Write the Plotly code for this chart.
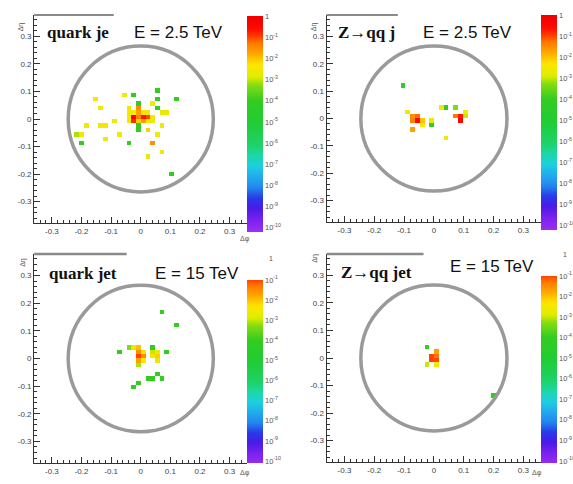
import numpy as np
import plotly.graph_objects as go

# ---------------- data (cell centres in dphi, deta and energy fraction) ----------------
QUARK25_PHI = [-0.052, -0.027, 0.062, 0.062, 0.123, -0.153, -0.137, -0.012, 0.040, 0.056,
               -0.008, -0.040, 0.072, 0.088, 0.076, -0.088, -0.136, -0.120, -0.184, -0.216,
               -0.200, -0.200, -0.120, -0.072, -0.040, -0.008, 0.024, 0.056, 0.040, 0.072,
               0.024, 0.104,
               -0.040, -0.024, -0.008, 0.008, 0.024,
               -0.040, -0.024, -0.008, 0.008, 0.024, 0.040,
               -0.040, -0.024, -0.008, 0.008, 0.024, 0.040, -0.008]
QUARK25_ETA = [0.087, 0.087, 0.100, 0.070, 0.069, 0.070, 0.040, 0.056, 0.056, 0.040,
               0.040, 0.040, 0.024, 0.024, -0.022, -0.006, -0.022, -0.022, -0.022, -0.052,
               -0.052, -0.084, -0.070, -0.052, -0.084, -0.040, -0.040, -0.052, -0.084, -0.115,
               -0.136, -0.200,
               0.024, 0.024, 0.024, 0.024, 0.024,
               0.008, 0.008, 0.008, 0.008, 0.008, 0.008,
               -0.008, -0.008, -0.008, -0.008, -0.008, -0.008, -0.024]
QUARK25_FRAC = [3e-3, 1e-4, 1e-4, 1e-4, 1e-4, 3e-3, 3e-3, 1e-4, 3e-3, 1e-4,
                3e-2, 3e-3, 2e-3, 2e-3, 3e-3, 3e-3, 3e-3, 3e-3, 3e-3, 8e-4,
                3e-3, 1e-4, 3e-3, 3e-3, 1e-4, 1e-4, 8e-3, 3e-3, 3e-2, 3e-3,
                2e-3, 1e-4,
                3e-3, 4e-3, 2e-2, 5e-3, 3e-3,
                5e-3, 5e-1, 4e-2, 2e-1, 1e-1, 3e-3,
                3e-3, 1.5e-1, 8e-3, 2e-2, 5e-3, 2e-3, 1e-4]

ZQQ25_PHI = [-0.104, -0.088, -0.072, -0.056, -0.056, -0.072, -0.040, -0.040, -0.072, -0.008,
             -0.008, 0.024, 0.040, 0.072, 0.072, 0.088, 0.088, 0.104, 0.104, 0.040]
ZQQ25_ETA = [0.120, 0.024, 0.008, 0.008, -0.008, -0.008, -0.008, -0.024, -0.040, -0.008,
             -0.024, 0.040, 0.040, 0.040, 0.008, 0.008, -0.008, 0.024, 0.008, -0.072]
ZQQ25_FRAC = [1e-4, 3e-3, 3e-2, 6e-2, 3e-1, 4e-2, 1e-2, 4e-3, 2e-2, 2e-3,
              1e-4, 3e-3, 1e-4, 5e-4, 5e-2, 2e-1, 4e-1, 3e-3, 1e-3, 3e-3]

QUARK15_PHI = [0.072, 0.120, -0.072, -0.040, -0.024, -0.008, 0.008, -0.008, -0.008, 0.008,
               -0.008, 0.008, -0.008, 0.040, 0.040, 0.056, 0.040, 0.056, 0.056, 0.088,
               0.056, 0.024, 0.040, 0.072, -0.008, -0.024]
QUARK15_ETA = [0.168, 0.120, 0.024, 0.040, 0.040, 0.040, 0.024, 0.024, 0.008, 0.008,
               -0.008, -0.008, -0.024, 0.040, 0.024, 0.024, 0.008, 0.008, -0.008, 0.024,
               -0.056, -0.072, -0.072, -0.078, -0.084, -0.104]
QUARK15_FRAC = [1e-4, 1e-4, 1e-4, 5e-4, 2e-3, 1e-2, 5e-3, 3e-2, 1e-1, 3e-2,
                2e-2, 4e-3, 8e-4, 1e-4, 1e-3, 2e-3, 3e-3, 8e-3, 2e-3, 1e-4,
                1e-4, 1e-4, 1e-4, 1e-4, 1e-4, 1e-4]

ZQQ15_PHI = [-0.024, 0.008, 0.008, -0.008, -0.008, 0.008, -0.024, 0.008, 0.200]
ZQQ15_ETA = [0.040, 0.024, 0.008, 0.008, -0.008, -0.008, -0.024, -0.024, -0.136]
ZQQ15_FRAC = [1e-4, 2e-2, 5e-2, 1e-1, 2e-1, 1.5e-1, 1e-3, 3e-3, 1e-4]

PANEL_LABELS = ["quark je", "Z\u2192qq j", "quark jet", "Z\u2192qq jet"]
ENERGY_LABELS = ["E = 2.5 TeV", "E = 2.5 TeV", "E = 15 TeV", "E = 15 TeV"]

AXIS_TICKS = [-0.3, -0.2, -0.1, 0.0, 0.1, 0.2, 0.3]
AXIS_TICK_LABELS = ["-0.3", "-0.2", "-0.1", "0", "0.1", "0.2", "0.3"]
CB_TICKS = [0, -1, -2, -3, -4, -5, -6, -7, -8, -9, -10]
CB_TICK_LABELS = ["1"] + ["10<sup>-%d</sup>" % k for k in range(1, 11)]

# ---------------- styling constants ----------------
W, H = 573, 484
EDGES = np.linspace(-0.4, 0.4, 51)
JET_R_PHI, JET_R_ETA = 0.245, 0.265
XR = [-0.36, 0.36]
YR = [-0.378, 0.378]

PAL_LOG = [-10.2, -9.6, -9.1, -8.6, -8.1, -7.6, -7.1, -6.6, -6.1, -5.0, -4.0, -3.25, -2.9,
           -2.3, -1.8, -1.3, -0.95, -0.6, 0.0]
PAL_COL = ["#9a30f0", "#7a22ee", "#4a1ae8", "#2a3ae8", "#2288ee", "#22aaee", "#1ecfe0",
           "#1cd8a8", "#1ed36a", "#22cc33", "#33cc22", "#88dd11", "#ddee00", "#ffe600",
           "#ffaa00", "#ff7a00", "#ff3c00", "#ff0a00", "#ee0000"]


def hex2rgb(h):
    h = h.lstrip("#")
    return [int(h[i:i + 2], 16) for i in (0, 2, 4)]


def colorscale(zmin, zmax, n=80):
    rgb = np.array([hex2rgb(c) for c in PAL_COL], dtype=float)
    out = []
    for i, v in enumerate(np.linspace(zmin, zmax, n)):
        r, g, b = (np.interp(v, PAL_LOG, rgb[:, k]) for k in range(3))
        out.append([i / (n - 1), "rgb(%d,%d,%d)" % (r, g, b)])
    return out


def histogram(phi, eta, frac):
    Hh, _, _ = np.histogram2d(phi, eta, bins=[EDGES, EDGES], weights=frac)
    Z = Hh.T
    z = [[(float(np.log10(v)) if v > 0 else None) for v in row] for row in Z]
    centres = list((EDGES[:-1] + EDGES[1:]) / 2)
    return centres, centres, z


panels = [
    (QUARK25_PHI, QUARK25_ETA, QUARK25_FRAC),
    (ZQQ25_PHI, ZQQ25_ETA, ZQQ25_FRAC),
    (QUARK15_PHI, QUARK15_ETA, QUARK15_FRAC),
    (ZQQ15_PHI, ZQQ15_ETA, ZQQ15_FRAC),
]

# pixel layout of each panel
PIX = [
    dict(l=34.5, r=250, t=15, b=223, cbt=16, cbb=232, zmin=-10.2, zmax=0.0, topline=115),
    dict(l=330, r=547, t=15, b=222, cbt=15, cbb=230, zmin=-10.2, zmax=0.0, topline=402),
    dict(l=34.5, r=250, t=254, b=463, cbt=280, cbb=463, zmin=-10.1, zmax=-1.0, topline=128),
    dict(l=330, r=547, t=254, b=462, cbt=276, cbb=463, zmin=-10.1, zmax=-1.0, topline=428),
]

fig = go.Figure()
shapes = []
annotations = []
label_pos = [(45, 33), (340, 33), (47, 273), (343, 272)]
energy_pos = [(133, 33), (425, 33), (155, 273), (453, 266)]
deta_pos = [(16, 20), (318, 20), (17, 262), (318, 258)]
dphi_pos = [(248, 239), None, (248, 479), (550, 479)]

for i, ((phi, eta, frac), p) in enumerate(zip(panels, PIX)):
    k = "" if i == 0 else str(i + 1)
    xs, ys, z = histogram(phi, eta, frac)
    fig.add_trace(go.Heatmap(
        x=xs, y=ys, z=z, xaxis="x" + k, yaxis="y" + k,
        zmin=p["zmin"], zmax=p["zmax"], colorscale=colorscale(p["zmin"], p["zmax"]),
        hoverinfo="skip",
        colorbar=dict(
            thickness=16, thicknessmode="pixels",
            len=p["cbb"] - p["cbt"], lenmode="pixels",
            x=p["r"] / W, xanchor="left", y=1 - p["cbt"] / H, yanchor="top",
            xpad=0, ypad=0, outlinewidth=0,
            tickmode="array", tickvals=CB_TICKS, ticktext=CB_TICK_LABELS,
            ticks="", ticklen=0,
            tickfont=dict(size=7.5, color="#555", family="Liberation Sans"),
        ),
    ))
    axcommon = dict(
        tickmode="array", tickvals=AXIS_TICKS, ticktext=AXIS_TICK_LABELS,
        ticks="inside", ticklen=6, tickwidth=1, tickcolor="#333",
        minor=dict(tickmode="linear", tick0=0, dtick=0.02, ticks="inside",
                   ticklen=3, tickcolor="#333", tickwidth=1),
        showline=True, linecolor="#333", linewidth=1,
        showgrid=False, zeroline=False, fixedrange=True,
        tickfont=dict(size=8, color="#444", family="Liberation Sans"),
    )
    fig.update_layout(**{
        "xaxis" + k: dict(axcommon, domain=[p["l"] / W, p["r"] / W], range=XR,
                          anchor="y" + k),
        "yaxis" + k: dict(axcommon, domain=[1 - p["b"] / H, 1 - p["t"] / H], range=YR,
                          anchor="x" + k),
    })
    shapes.append(dict(type="circle", xref="x" + k, yref="y" + k,
                       x0=-JET_R_PHI, x1=JET_R_PHI, y0=-JET_R_ETA, y1=JET_R_ETA,
                       line=dict(color="#9a9a9a", width=3.5)))
    shapes.append(dict(type="line", xref="paper", yref="paper",
                       x0=p["l"] / W, x1=p["topline"] / W,
                       y0=1 - p["t"] / H, y1=1 - p["t"] / H,
                       line=dict(color="#8a8a8a", width=2 if i < 2 else 2.5)))
    lx, ly = label_pos[i]
    annotations.append(dict(text="<b>%s</b>" % PANEL_LABELS[i], x=lx / W, y=1 - ly / H,
                            xref="paper", yref="paper", xanchor="left", yanchor="middle",
                            showarrow=False,
                            font=dict(family="Liberation Serif", size=17, color="#111")))
    ex, ey = energy_pos[i]
    annotations.append(dict(text=ENERGY_LABELS[i], x=ex / W, y=1 - ey / H,
                            xref="paper", yref="paper", xanchor="left", yanchor="middle",
                            showarrow=False,
                            font=dict(family="Liberation Sans", size=17, color="#111")))
    dx, dy = deta_pos[i]
    annotations.append(dict(text="\u0394\u03b7", x=dx / W, y=1 - dy / H, textangle=-90,
                            xref="paper", yref="paper", showarrow=False,
                            font=dict(family="Liberation Sans", size=7, color="#555")))
    if dphi_pos[i] is not None:
        fx, fy = dphi_pos[i]
        annotations.append(dict(text="\u0394\u03c6", x=fx / W, y=1 - fy / H,
                                xref="paper", yref="paper", showarrow=False,
                                font=dict(family="Liberation Sans", size=7, color="#555")))
    if p["zmax"] < 0:
        annotations.append(dict(text="1", x=(p["r"] + 20) / W, y=1 - (p["cbt"] - 22) / H,
                                xref="paper", yref="paper", xanchor="left",
                                yanchor="middle", showarrow=False,
                                font=dict(family="Liberation Sans", size=7, color="#555")))

fig.update_layout(
    width=W, height=H, margin=dict(l=0, r=0, t=0, b=0),
    paper_bgcolor="white", plot_bgcolor="white",
    shapes=shapes, annotations=annotations, showlegend=False,
)

fig.write_html("out.html")
